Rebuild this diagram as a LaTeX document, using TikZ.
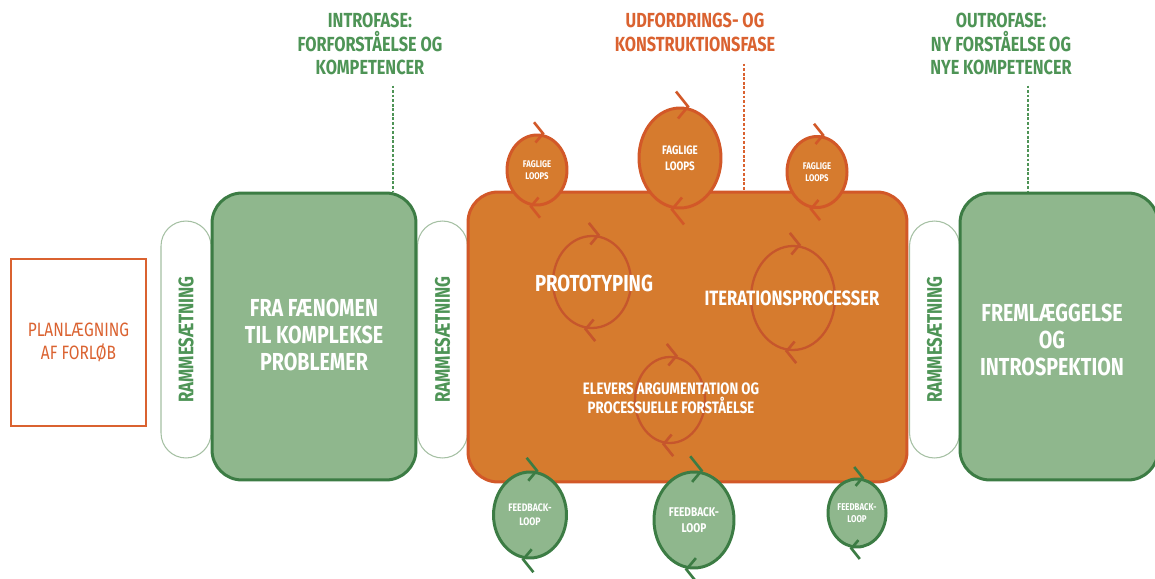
\documentclass[tikz,border=0pt]{standalone}
\usepackage{fontspec}
\setmainfont{Fira Sans}[FakeStretch=0.8]
\usepackage{tikz}
\usetikzlibrary{shapes.geometric,positioning,calc}
\definecolor{rgreen}{RGB}{143,183,141}
\definecolor{rdkgreen}{RGB}{60,124,68}
\definecolor{rtxtgreen}{RGB}{78,148,86}
\definecolor{rpill}{RGB}{165,192,163}
\definecolor{rorange}{RGB}{214,123,46}
\definecolor{rdkorange}{RGB}{210,88,40}
\definecolor{rloop}{RGB}{198,86,44}
\definecolor{rtxtorange}{RGB}{218,98,48}
\tikzstyle{phasebox} = [rectangle, rounded corners=0.6cm, draw=rdkgreen, fill=rgreen, line width=1.7pt, inner sep=0pt, minimum height=5.74cm]
\tikzstyle{pill} = [rectangle, rounded corners=0.5cm, draw=rpill, fill=white, line width=0.6pt, minimum width=1cm, minimum height=4.74cm, inner sep=0pt]
\tikzstyle{pilltext} = [rotate=90, text=rtxtgreen, font=\fontsize{12}{14}\selectfont\bfseries]
\tikzstyle{boxtext} = [text=white, align=center, font=\fontsize{14}{15.6}\selectfont\bfseries]
\tikzstyle{phaselbl} = [align=center, font=\fontsize{11.6}{13.6}\selectfont\bfseries]
\tikzstyle{phaseline} = [line width=0.6pt, dash pattern=on 1.6pt off 1pt]
\tikzstyle{faglig} = [ellipse, draw=rdkorange, fill=rorange, line width=1.7pt, inner sep=0pt, text=white, align=center]
\tikzstyle{feedback} = [ellipse, draw=rdkgreen, fill=rgreen, line width=1.7pt, inner sep=0pt, text=white, align=center]
\tikzstyle{innerloop} = [ellipse, draw=rloop, line width=1.3pt, inner sep=0pt]
% chevrons on a loop: node, colour, size factor
\newcommand{\loopmarks}[3]{%
  \draw[#2, line width=1.5pt] ($(#1.north)+(-4*#3,-15*#3)$) -- ($(#1.north)+(8*#3,0)$) -- ($(#1.north)+(-2*#3,12*#3)$);
  \draw[#2, line width=1.5pt] ($(#1.south)+(4*#3,15*#3)$) -- ($(#1.south)+(-8*#3,0)$) -- ($(#1.south)+(2*#3,-12*#3)$);
}

\begin{document}
\begin{tikzpicture}[x=0.02cm, y=-0.02cm]
\useasboundingbox (0,0) rectangle (1155,578);

% Planning
\node[draw=rtxtorange, line width=0.6pt, minimum width=2.7cm, minimum height=3.34cm, inner sep=0pt,
  text=rtxtorange, align=center, font=\fontsize{11}{13}\selectfont] (plan) at (78.5,342.5) {PLANLÆGNING\\AF FORLØB};

% Framing
\node[pill] (frame1) at (186,339.5) {};
\node[pilltext] at (frame1) {RAMMESÆTNING};
\node[pill] (frame2) at (442.5,339.5) {};
\node[pilltext] at (frame2) {RAMMESÆTNING};
\node[pill] (frame3) at (934.5,339.5) {};
\node[pilltext] at (frame3) {RAMMESÆTNING};

% Intro phase
\node[phasebox, minimum width=4.08cm] (intro) at (314,336.5) {};
\node[boxtext] (introtxt) at (314,335) {FRA FÆNOMEN\\TIL KOMPLEKSE\\PROBLEMER};

% Challenge phase
\node[phasebox, draw=rdkorange, fill=rorange, minimum width=8.78cm, minimum height=5.8cm] (challenge) at (687.5,337) {};
\node[innerloop, minimum width=1.56cm, minimum height=1.84cm] (protoloop) at (592,282) {};
\loopmarks{protoloop}{rloop}{0.8}
\node[innerloop, minimum width=1.68cm, minimum height=2.08cm] (iterloop) at (793,298) {};
\loopmarks{iterloop}{rloop}{0.8}
\node[innerloop, minimum width=1.4cm, minimum height=1.72cm] (argloop) at (670,400) {};
\loopmarks{argloop}{rloop}{0.8}
\node[boxtext, font=\fontsize{13.2}{15}\selectfont\bfseries] (proto) at (594,283) {PROTOTYPING};
\node[boxtext, font=\fontsize{11.8}{13}\selectfont\bfseries] (iter) at (792,298) {ITERATIONSPROCESSER};
\node[boxtext, font=\fontsize{9.4}{11}\selectfont\bfseries] (arg) at (671,398) {ELEVERS ARGUMENTATION OG\\PROCESSUELLE FORSTÅELSE};

% Outro phase
\node[phasebox, minimum width=3.96cm] (outro) at (1059,336.5) {};
\node[boxtext] (outrotxt) at (1052,340) {FREMLÆGGELSE\\OG\\INTROSPEKTION};

% Subject loops
\node[faglig, minimum width=1.2cm, minimum height=1.4cm, font=\fontsize{5.5}{7}\selectfont\bfseries] (fag1) at (537,170) {FAGLIGE\\LOOPS};
\loopmarks{fag1}{rdkorange}{0.75}
\node[faglig, minimum width=1.64cm, minimum height=2cm, font=\fontsize{7}{9}\selectfont\bfseries] (fag2) at (680,158) {FAGLIGE\\LOOPS};
\loopmarks{fag2}{rdkorange}{1}
\node[faglig, minimum width=1.2cm, minimum height=1.42cm, font=\fontsize{5.5}{7}\selectfont\bfseries] (fag3) at (817,172) {FAGLIGE\\LOOPS};
\loopmarks{fag3}{rdkorange}{0.75}

% Feedback loops
\node[feedback, minimum width=1.46cm, minimum height=1.72cm, font=\fontsize{6.2}{8}\selectfont\bfseries] (fb1) at (530,515) {FEEDBACK-\\LOOP};
\loopmarks{fb1}{rdkgreen}{0.85}
\node[feedback, minimum width=1.6cm, minimum height=1.92cm, font=\fontsize{7.2}{9}\selectfont\bfseries] (fb2) at (694,520) {FEEDBACK-\\LOOP};
\loopmarks{fb2}{rdkgreen}{0.95}
\node[feedback, minimum width=1.16cm, minimum height=1.36cm, font=\fontsize{5.6}{7}\selectfont\bfseries] (fb3) at (857,513) {FEEDBACK-\\LOOP};
\loopmarks{fb3}{rdkgreen}{0.7}

% Phase labels
\node[phaselbl, text=rtxtgreen] (introlbl) at (370,44) {INTROFASE:\\FORFORSTÅELSE OG\\KOMPETENCER};
\node[phaselbl, text=rtxtorange] (challlbl) at (695,32) {UDFORDRINGS- OG\\KONSTRUKTIONSFASE};
\node[phaselbl, text=rtxtgreen] (outrolbl) at (1001,44) {OUTROFASE:\\NY FORSTÅELSE OG\\NYE KOMPETENCER};
\coordinate (introend) at (393,192);
\coordinate (challend) at (744,191);
\coordinate (outroend) at (1028,192);
\draw[phaseline, rtxtgreen] ($(introlbl.south -| introend)+(0,4)$) -- (introend);
\draw[phaseline, rtxtorange] ($(challlbl.south -| challend)+(0,6)$) -- (challend);
\draw[phaseline, rtxtgreen] ($(outrolbl.south -| outroend)+(0,4)$) -- (outroend);
\end{tikzpicture}
\end{document}
